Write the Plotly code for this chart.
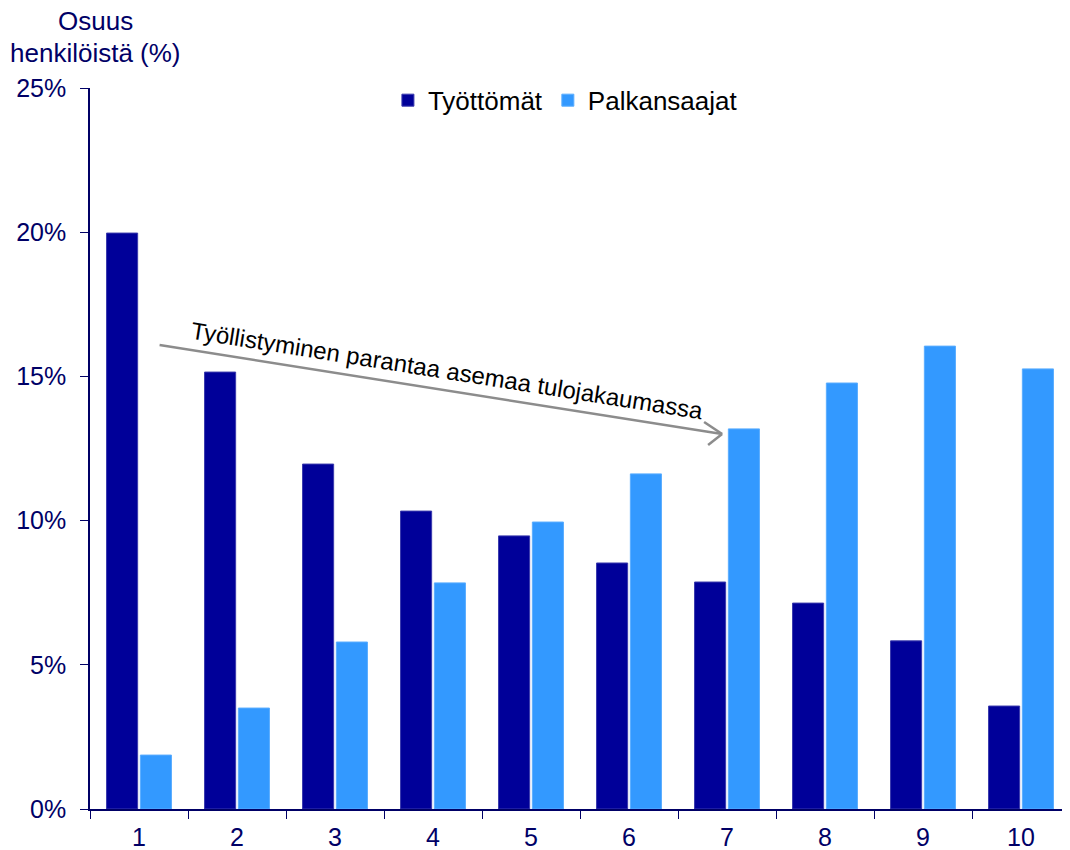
import plotly.graph_objects as go

categories = ["1", "2", "3", "4", "5", "6", "7", "8", "9", "10"]
tyottomat = [19.97, 15.15, 11.96, 10.33, 9.47, 8.53, 7.87, 7.14, 5.83, 3.57]
palkansaajat = [1.87, 3.50, 5.79, 7.84, 9.95, 11.62, 13.18, 14.77, 16.05, 15.26]
y_ticks = [0, 5, 10, 15, 20, 25]
y_ticklabels = ["0%", "5%", "10%", "15%", "20%", "25%"]

NAVY = "#000066"
FONT = "Liberation Sans, Arial, sans-serif"

fig = go.Figure()
fig.add_trace(go.Bar(
    x=categories, y=tyottomat, name="Työttömät",
    marker=dict(color="#000099", line=dict(color="#3a3aad", width=1)),
))
fig.add_trace(go.Bar(
    x=categories, y=palkansaajat, name="Palkansaajat",
    marker=dict(color="#3399FF", line=dict(color="#5aadff", width=1)),
))

# page body has an 8px margin, so the figure is sized/offset to compensate
fig.update_layout(
    width=1062, height=842,
    margin=dict(l=82, r=0, t=80, b=41),
    paper_bgcolor="white", plot_bgcolor="white",
    barmode="group", bargap=0.31, bargroupgap=0.08,
    font=dict(family=FONT, color=NAVY, size=25),
    showlegend=True,
    legend=dict(
        orientation="h", x=0.304, y=0.983, xanchor="left", yanchor="middle",
        font=dict(size=26, color="black", family=FONT),
        bgcolor="rgba(0,0,0,0)", itemwidth=30, tracegroupgap=0,
    ),
    xaxis=dict(
        type="category", showline=True, linecolor=NAVY, linewidth=1.5,
        ticks="outside", tickson="boundaries", ticklen=8, tickcolor=NAVY,
        tickfont=dict(size=25, color=NAVY), showgrid=False, automargin=False,
        ticklabelstandoff=5,
    ),
    yaxis=dict(
        range=[0, 25], tickvals=y_ticks, ticktext=y_ticklabels,
        showline=True, linecolor=NAVY, linewidth=1.5,
        ticks="outside", ticklen=8, tickcolor=NAVY,
        tickfont=dict(size=25, color=NAVY), showgrid=False, zeroline=False,
        automargin=False, ticklabelstandoff=9,
    ),
)

# y-axis title (two lines)
fig.add_annotation(text="Osuus", xref="paper", yref="paper", x=0.006, y=(809 - 21) / 721,
                   xanchor="center", yanchor="middle", showarrow=False,
                   font=dict(size=26, color=NAVY, family=FONT))
fig.add_annotation(text="henkilöistä (%)", xref="paper", yref="paper", x=0.006, y=(809 - 53) / 721,
                   xanchor="center", yanchor="middle", showarrow=False,
                   font=dict(size=26, color=NAVY, family=FONT))

# arrow line
GRAY = "#8c8c8c"
fig.add_shape(type="line", xref="x", yref="y", x0=0.21, y0=16.09, x1=5.95, y1=13.0,
              line=dict(color=GRAY, width=2.5))
# open chevron head
fig.add_shape(type="line", xref="x", yref="y", xsizemode="pixel", ysizemode="pixel",
              xanchor=5.95, yanchor=13.0, x0=-18, y0=12, x1=0, y1=0,
              line=dict(color=GRAY, width=2.5))
fig.add_shape(type="line", xref="x", yref="y", xsizemode="pixel", ysizemode="pixel",
              xanchor=5.95, yanchor=13.0, x0=-14, y0=-11, x1=0, y1=0,
              line=dict(color=GRAY, width=2.5))

fig.add_annotation(text="Työllistyminen parantaa asemaa tulojakaumassa",
                   xref="x", yref="y", x=3.14, y=15.2, textangle=9,
                   showarrow=False, font=dict(size=24, color="black", family=FONT))

fig.write_html("out.html")
